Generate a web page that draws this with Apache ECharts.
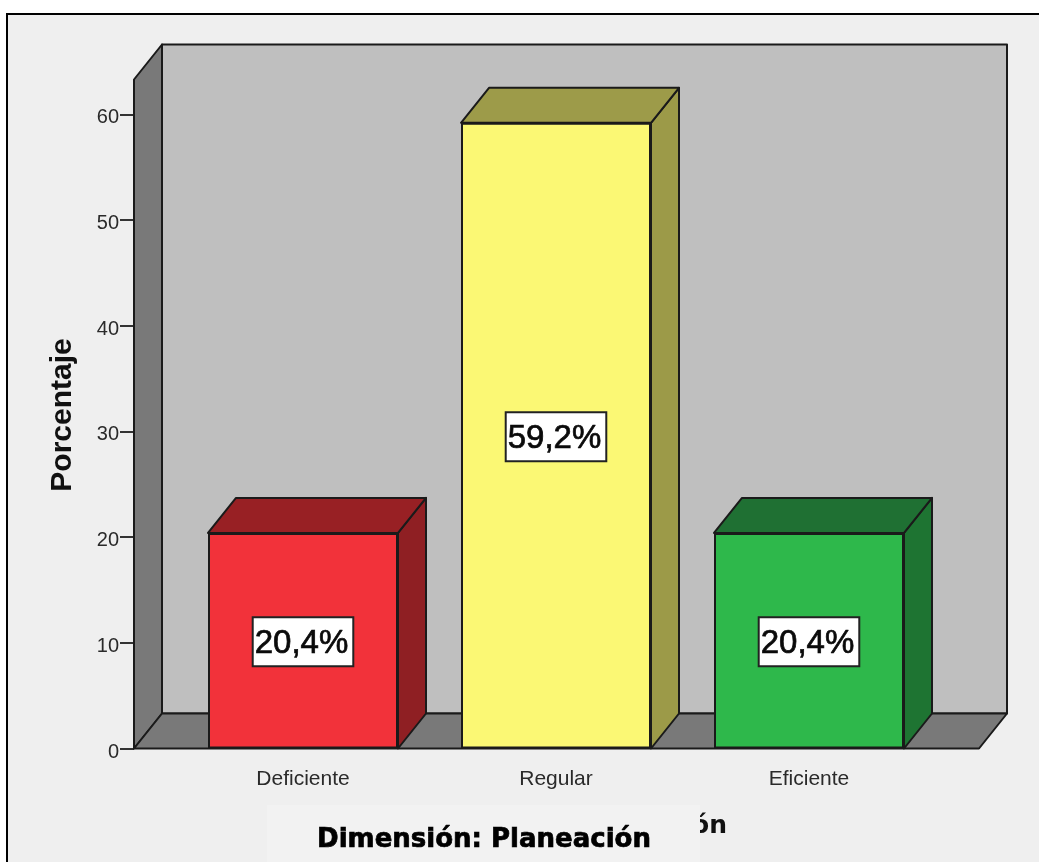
<!DOCTYPE html>
<html>
<head>
<meta charset="utf-8">
<style>
  html, body { margin: 0; padding: 0; background: #ffffff; }
  #chart { width: 1039px; height: 862px; }
</style>
<script src="https://cdn.jsdelivr.net/npm/echarts@6/dist/echarts.min.js"></script>
</head>
<body>
<div id="chart"></div>
<script>
// Dimensión: Planeación, percentage per level
const categories = ['Deficiente', 'Regular', 'Eficiente'];
const percentages = [20.4, 59.2, 20.4];
const frontColors = ['#f2323a', '#fbf874', '#2eb84b'];
const sideColors = ['#8f1f23', '#9c9a48', '#1e7432'];
const topColors = ['#982024', '#9d9b49', '#1f7033'];
const yTicks = [0, 10, 20, 30, 40, 50, 60];

// Oblique projection offset of the box depth, and box/floor extents
const DX = 28, DY = -35;
const BAR_W = 190;
const FLOOR_OVERHANG_L = 42.5, FLOOR_OVERHANG_R = 43.5;
const EDGE = '#1a1a1a';

const chart = echarts.init(document.getElementById('chart'));

function poly(points, fill, lw) {
  return { type: 'polygon', shape: { points }, style: { fill, stroke: EDGE, lineWidth: lw || 2, lineJoin: 'round' } };
}

// Back wall, left wall and floor of the chart box
function renderRoom(params, api) {
  const cs = params.coordSys;
  const l = cs.x - FLOOR_OVERHANG_L, r = cs.x + cs.width + FLOOR_OVERHANG_R;
  const t = cs.y, b = cs.y + cs.height;
  return {
    type: 'group',
    children: [
      poly([[l + DX, t + DY], [r + DX, t + DY], [r + DX, b + DY], [l + DX, b + DY]], '#bfbfbf'),
      poly([[l, t], [l + DX, t + DY], [l + DX, b + DY], [l, b]], '#797979'),
      poly([[l, b], [l + DX, b + DY], [r + DX, b + DY], [r, b]], '#797979')
    ]
  };
}

// Top and right faces of each box; the front face is the bar itself
function renderFaces(params, api) {
  const i = api.value(0);
  const top = api.coord([i, api.value(1)]);
  const base = api.coord([i, 0]);
  const x0 = top[0] - BAR_W / 2, x1 = top[0] + BAR_W / 2;
  return {
    type: 'group',
    children: [
      poly([[x1, top[1]], [x1 + DX, top[1] + DY], [x1 + DX, base[1] + DY], [x1, base[1]]], sideColors[i]),
      poly([[x0, top[1]], [x0 + DX, top[1] + DY], [x1 + DX, top[1] + DY], [x1, top[1]]], topColors[i])
    ]
  };
}

chart.setOption({
  animation: false,
  backgroundColor: '#ffffff',
  graphic: [
    { type: 'rect', z: -10, shape: { x: 7, y: 14, width: 1040, height: 860 },
      style: { fill: '#efefef', stroke: '#000000', lineWidth: 2 } },
    { type: 'text', z: 5, x: 727, y: 826, style: { text: 'ón', fill: '#111111', align: 'right', verticalAlign: 'middle',
      font: 'bold 25px "DejaVu Sans"' } },
    { type: 'rect', z: 6, shape: { x: 267, y: 805, width: 433, height: 60 }, style: { fill: '#f2f2f2' } },
    { type: 'text', z: 7, x: 484, y: 840, style: { text: 'Dimensión: Planeación', fill: '#000000', align: 'center', verticalAlign: 'middle',
      font: 'bold 26px "DejaVu Sans"', stroke: '#000000', lineWidth: 0.7 } },
    { type: 'text', z: 7, rotation: Math.PI / 2, x: 63, y: 415, style: { text: 'Porcentaje', fill: '#111111', align: 'center', verticalAlign: 'middle',
      font: 'bold 30px "Liberation Sans"' } }
  ],
  grid: { left: 176.5, top: 79.5, width: 759, height: 669, containLabel: false },
  xAxis: {
    type: 'category',
    data: categories,
    axisLine: { show: false },
    axisTick: { alignWithLabel: true, length: 14, lineStyle: { color: '#333333', width: 2 } },
    axisLabel: { color: '#2a2a2a', fontFamily: 'Liberation Sans', fontSize: 21, margin: 20, interval: 0 }
  },
  yAxis: {
    type: 'value',
    min: 0,
    max: 63.3,
    interval: 10,
    offset: FLOOR_OVERHANG_L,
    axisLine: { show: false },
    splitLine: { show: false },
    axisTick: { show: true, length: 14, lineStyle: { color: '#333333', width: 2 } },
    axisLabel: {
      margin: 15,
      showMaxLabel: false,
      formatter: v => (yTicks.includes(v) ? '{n|' + v + '}' : ''),
      rich: { n: { color: '#2a2a2a', fontFamily: 'Liberation Sans', fontSize: 20, padding: [7, 0, 0, 0] } }
    }
  },
  series: [
    { type: 'custom', z: 1, silent: true, renderItem: renderRoom, data: [[0, 0]], clip: false },
    { type: 'custom', z: 2, silent: true, renderItem: renderFaces, clip: false,
      data: percentages.map((v, i) => [i, v]) },
    {
      type: 'bar',
      z: 3,
      barWidth: BAR_W,
      data: percentages.map((v, i) => ({ value: v, itemStyle: { color: frontColors[i] } })),
      itemStyle: { borderColor: EDGE, borderWidth: 2 },
      label: {
        show: true,
        position: 'inside',
        offset: [0, 1],
        backgroundColor: '#ffffff',
        borderColor: '#222222',
        borderWidth: 2,
        padding: [0, 4, 0, 1],
        formatter: p => '{v|' + String(p.value).replace('.', ',') + '%}',
        rich: {
          v: {
            color: '#0a0a0a', fontFamily: 'Liberation Sans', fontSize: 33,
            textBorderColor: '#0a0a0a', textBorderWidth: 0.7,
            padding: [9, 0, 5, 0]
          }
        }
      }
    }
  ]
});
</script>
</body>
</html>
